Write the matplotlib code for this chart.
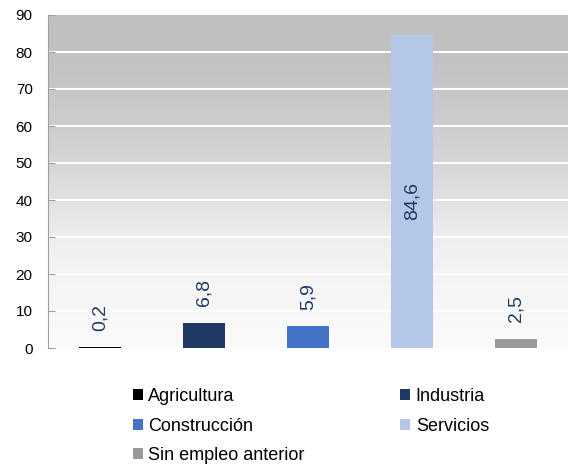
import numpy as np
import matplotlib
matplotlib.use("Agg")
import matplotlib.pyplot as plt
from matplotlib.patches import Patch

categories = ["Agricultura", "Industria", "Construcción", "Servicios", "Sin empleo anterior"]
values = [0.2, 6.8, 5.9, 84.6, 2.5]
value_labels = ["0,2", "6,8", "5,9", "84,6", "2,5"]
colors = ["#000000", "#1F3864", "#4472C4", "#B4C7E7", "#999999"]
yticks = [0, 10, 20, 30, 40, 50, 60, 70, 80, 90]

plt.rcParams["font.family"] = ["Liberation Sans", "DejaVu Sans"]

fig = plt.figure(figsize=(5.73, 4.66), dpi=100)
ax = fig.add_axes([48/573, 1-348/466, 520/573, (348-15)/466])

# gradient background (style only)
yy = np.linspace(90, 0, 500)
stop_y = [0, 20, 30, 40, 50, 60, 70, 80, 90]
stop_v = [0xfb, 0xf4, 0xee, 0xe1, 0xd6, 0xcd, 0xc7, 0xc1, 0xc0]
g = np.interp(yy, stop_y, stop_v) / 255.0
img = np.stack([g, g, g], axis=-1).reshape(-1, 1, 3)
xlo, xhi = -0.5, 4.5
ax.imshow(img, extent=[xlo, xhi, 0, 90], aspect="auto", zorder=0,
          interpolation="bilinear", origin="upper")

for t in yticks[1:-1]:
    ax.axhline(t, color="white", lw=1.5, zorder=1)

x = np.arange(len(values))
ax.bar(x, values, width=0.40, color=colors, zorder=2)

for xi, v, lab in zip(x, values, value_labels):
    if v > 50:
        ax.text(xi, v / 2 - 2.6, lab, rotation=90, ha="center", va="center",
                fontsize=14, color="#1F3864", zorder=3)
    else:
        ax.annotate(lab, (xi, v), xytext=(0, 12), textcoords="offset points",
                    rotation=90, ha="center", va="bottom", fontsize=14,
                    color="#1F3864", zorder=3)

ax.set_xlim(xlo, xhi)
ax.set_ylim(0, 90)
ax.set_yticks(yticks)
ax.set_yticklabels([str(t) for t in yticks], fontsize=11)
ax.set_xticks([])
for s in ["top", "right", "bottom"]:
    ax.spines[s].set_visible(False)
ax.spines["left"].set_color("#A0A0A0")
ax.spines["left"].set_zorder(4)
ax.tick_params(axis="y", direction="in", length=5, color="#A0A0A0", pad=11)

handles = [Patch(facecolor=c, edgecolor="none") for c in colors]
order = [0, 2, 4, 1, 3]
fig.legend([handles[i] for i in order], [categories[i] for i in order],
           loc="upper left", bbox_to_anchor=(133/573, 1-388/466), ncol=2,
           frameon=False, fontsize=13, handlelength=0.55, handleheight=0.55,
           handletextpad=0.3, labelspacing=0.7, columnspacing=5.3,
           borderpad=0, borderaxespad=0)

fig.savefig("out.png", dpi=100)
